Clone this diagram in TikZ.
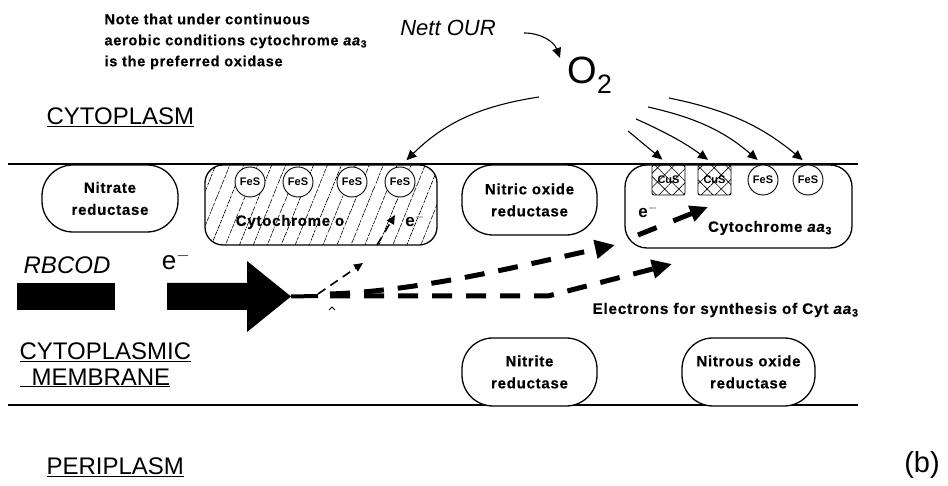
\documentclass[tikz,border=0pt]{standalone}
\usepackage{fontspec}
\setmainfont{Liberation Sans}
\newfontfamily\heavyfont[FakeBold=0.5, LetterSpace=5]{Liberation Sans Bold}
\usepackage{tikz}
\usetikzlibrary{arrows.meta, shapes, positioning, patterns.meta}

\newcommand{\aaiii}{\textit{aa}\textsubscript{3}}

\begin{document}
\begin{tikzpicture}[x=1pt, y=1pt,
                line join=round,
                membrane/.style={line width=2.6pt},
                enzyme/.style={shape=rectangle, rounded corners=31pt, draw=black, line width=1.3pt, fill=white, align=center, inner sep=0pt, font=\heavyfont\fontsize{15}{22}\selectfont},
                hatchbox/.style={shape=rectangle, rounded corners=18pt, draw=black, line width=1.3pt, pattern={Lines[angle=68, distance=13pt, line width=0.8pt]}},
                fesnode/.style={shape=circle, draw=black, fill=white, line width=0.9pt, minimum size=30pt, inner sep=0pt, font=\bfseries\fontsize{11}{12}\selectfont,
                        path picture={\fill (path picture bounding box.center) ++(-3pt,10.5pt) circle (0.6pt) ++(6pt,0pt) circle (0.6pt)
                                        (path picture bounding box.center) ++(-5pt,-10.5pt) circle (0.6pt) ++(10pt,0pt) circle (0.6pt);}},
                cusnode/.style={shape=rectangle, rounded corners=2pt, draw=black, line width=0.9pt, minimum width=33pt, minimum height=30pt, inner sep=0pt,
                        pattern={Hatch[angle=45, distance=10pt, line width=0.6pt]}, font=\bfseries\fontsize{11}{12}\selectfont},
                boxtext/.style={font=\heavyfont\fontsize{15}{17}\selectfont},
                region/.style={anchor=west, font=\fontsize{24}{27}\selectfont},
                oxarrow/.style={line width=1.1pt, -{Triangle[length=10pt, width=9pt]}},
                ebig/.style={line width=5pt, dash pattern=on 20pt off 14pt, -{Triangle[length=20pt, width=18pt]}},
                esmall/.style={line width=1.6pt, dash pattern=on 9pt off 6pt, -{Triangle[length=9pt, width=8pt]}}
                ]
                \useasboundingbox (0,0) rectangle (948,486);

                %% Membrane
                \draw[membrane] (8,322) -- (858,322);
                \draw[membrane] (8,81) -- (858,81);

                %% Labels
                \node[anchor=west, align=left, font=\heavyfont\fontsize{14.5}{21}\selectfont] (note) at (101,444.5)
                        {Note that under continuous\\aerobic conditions cytochrome \aaiii\\is the preferred oxidase};
                \node[font=\itshape\fontsize{22}{24}\selectfont] (nett) at (448,458) {Nett OUR};
                \node[font=\fontsize{38}{40}\selectfont] (otwo) at (590,411) {O\textsubscript{2}};
                \node[region] (cytoplasm) at (43,369) {\underline{CYTOPLASM}};
                \node[region] (cytomem) at (16,134) {\underline{CYTOPLASMIC}};
                \node[region] (membrane) at (16,108) {\underline{\hspace*{12pt}MEMBRANE}};
                \node[region] (periplasm) at (43,19) {\underline{PERIPLASM}};
                \node[font=\fontsize{29}{32}\selectfont] (panel) at (922,21) {(b)};

                %% Enzymes on the cytoplasmic side
                \node[enzyme, minimum width=136pt, minimum height=67pt] (nitrate) at (110,287.5) {Nitrate\\reductase};
                \node[hatchbox, minimum width=232pt, minimum height=80pt] (cytoo) at (321,281) {};
                \node[fesnode] (feso1) at (250,304) {FeS};
                \node[fesnode] (feso2) at (298,304) {FeS};
                \node[fesnode] (feso3) at (352,304) {FeS};
                \node[fesnode] (feso4) at (400,304) {FeS};
                \node[boxtext] (cytoolabel) at (290,264) {Cytochrome o};
                \node[font=\bfseries\fontsize{17}{18}\selectfont] (eo) at (415,266) {e$^-$};

                \node[enzyme, minimum width=135pt, minimum height=70pt] (nitric) at (529.5,286) {Nitric oxide\\reductase};

                \node[enzyme, rounded corners=22pt, minimum width=227pt, minimum height=83pt] (cytaa) at (738.5,279.5) {};
                \node[cusnode] (cus1) at (668.5,306) {CuS};
                \node[cusnode] (cus2) at (714.5,306) {CuS};
                \node[fesnode] (fesaa1) at (763,306) {FeS};
                \node[fesnode] (fesaa2) at (808,306) {FeS};
                \node[boxtext] (cytaalabel) at (770,258) {Cytochrome \aaiii};
                \node[font=\bfseries\fontsize{17}{18}\selectfont] (eaa) at (648,275) {e$^-$};

                %% Enzymes on the periplasmic side
                \node[enzyme, minimum width=135pt, minimum height=68pt] (nitrite) at (529.5,114) {Nitrite\\reductase};
                \node[enzyme, minimum width=133pt, minimum height=68pt] (nitrous) at (748.5,114) {Nitrous oxide\\reductase};

                %% Oxygen uptake
                \coordinate (nettout) at ([xshift=25pt,yshift=-5pt]nett.east);
                \draw[oxarrow] (nettout) to[bend left=35] ([xshift=-30pt,yshift=17pt]otwo.center);
                \coordinate (oxa) at ([xshift=-51pt,yshift=-22pt]otwo.center);
                \coordinate (oxb) at ([xshift=38pt,yshift=-56pt]otwo.center);
                \coordinate (oxc) at ([xshift=46pt,yshift=-44pt]otwo.center);
                \coordinate (oxd) at ([xshift=58pt,yshift=-32pt]otwo.center);
                \coordinate (oxe) at ([xshift=79pt,yshift=-23pt]otwo.center);
                \draw[oxarrow, shorten >=9pt] (oxa) to[bend right=18] (feso4.north);
                \draw[oxarrow, shorten >=8pt] (oxb) to (cus1.north);
                \draw[oxarrow, shorten >=8pt] (oxc) to[bend left=6] (cus2.north);
                \draw[oxarrow, shorten >=7pt] (oxd) to[bend left=14] (fesaa1.north);
                \draw[oxarrow, shorten >=7pt] (oxe) to[bend left=14] (fesaa2.north);

                %% Electron flow from RBCOD
                \node[font=\itshape\fontsize{24}{26}\selectfont] (rbcod) at (67,221) {RBCOD};
                \node[fill=black, minimum width=98pt, minimum height=27pt, inner sep=0pt] (rbcodbar) at (66,189.5) {};
                \node[font=\fontsize{26}{28}\selectfont] (ebig) at (176,226) {e$^-$};
                \coordinate (tip) at (291,189.5);
                \fill (167,176) -- (247,176) -- (247,154) -- (tip) -- (247,225) -- (247,203) -- (167,203) -- cycle;
                \coordinate (tail) at (318,190);
                \draw[line width=4pt] (tip) -- (tail);
                \draw[line width=0.8pt] (329,176) -- (332,179) -- (335,176);

                \coordinate (toaa) at (615,241);
                \coordinate (tosyn) at (672,222);
                \draw[esmall] (tail) ++(0pt,2pt) -- (363,223);
                \draw[ebig] (330,192) .. controls (420,195) and (520,220) .. (toaa);
                \draw[ebig] (330,190) -- (548,190) -- (tosyn);
                \draw[esmall] (377,241) -- (395,271);
                \draw[ebig, dash pattern=on 20pt off 18pt, -{Triangle[length=18pt, width=16pt]}] (638,251) -- (708,279);

                \node[anchor=west, font=\heavyfont\fontsize{15.3}{17}\selectfont] (synth) at (589,176) {Electrons for synthesis of Cyt \aaiii};
\end{tikzpicture}
\end{document}
